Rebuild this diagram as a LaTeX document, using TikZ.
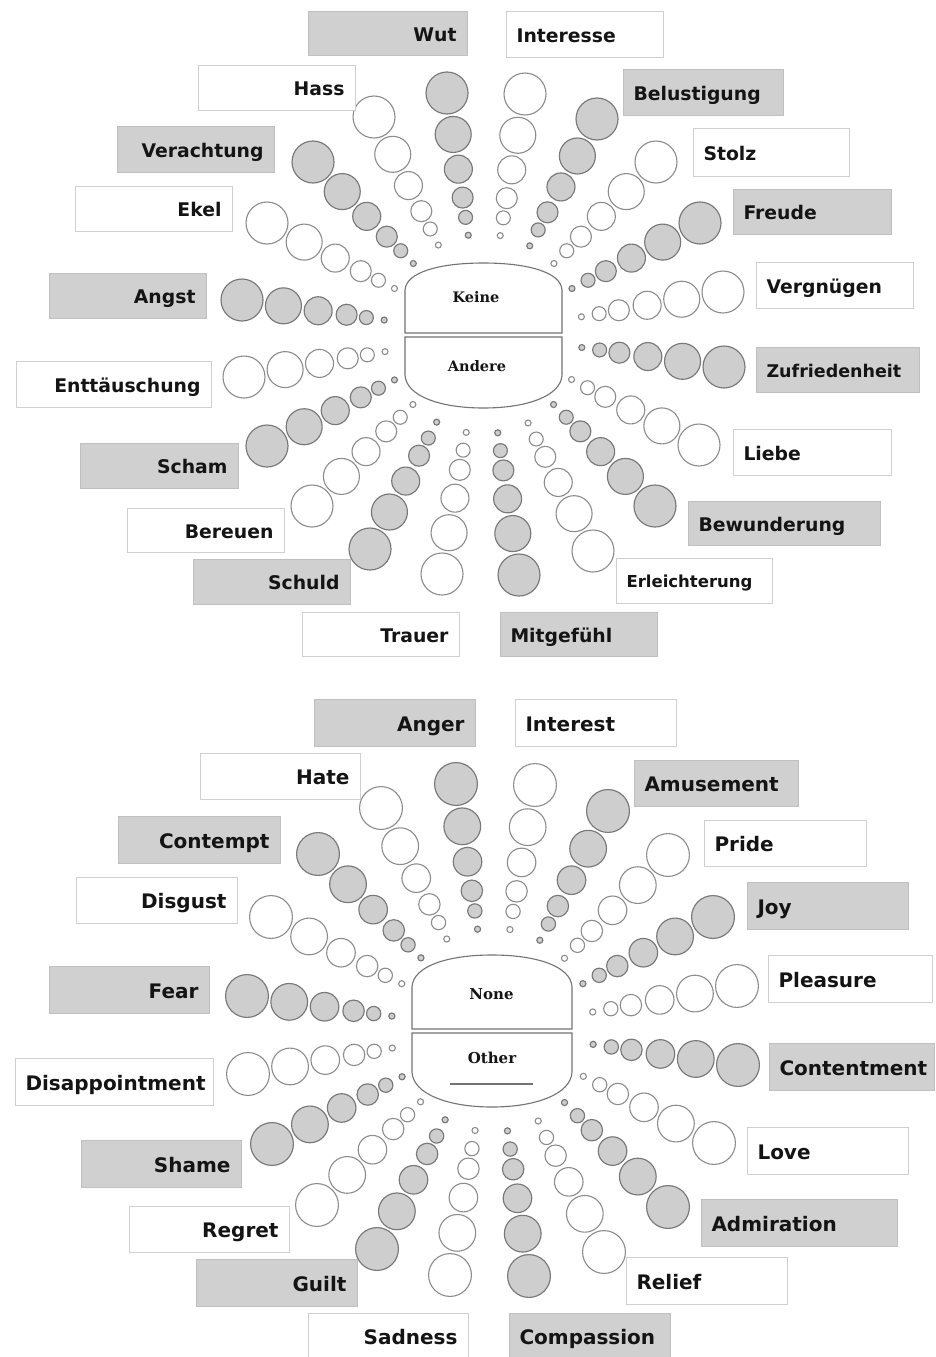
\documentclass[tikz,border=0pt]{standalone}
\usepackage{fontspec}
\usetikzlibrary{calc}
\newfontfamily\labfam{DejaVu Sans}
\newfontfamily\serfam{DejaVu Serif}
\definecolor{cg}{RGB}{206,206,206}
\definecolor{cgl}{RGB}{120,120,120}
\definecolor{cwl}{RGB}{140,140,140}
\definecolor{bg}{RGB}{208,208,208}
\definecolor{bgl}{RGB}{192,192,192}
\definecolor{bwl}{RGB}{208,208,208}
\definecolor{ctrl}{RGB}{115,115,115}
\definecolor{txt}{RGB}{20,20,20}
\tikzset{
  gcirc/.style={fill=cg, draw=cgl, line width=1.15pt},
  wcirc/.style={fill=white, draw=cwl, line width=1.1pt},
  lab/.style={line width=1pt, inner xsep=10.5pt, inner ysep=0pt, text height=16.5pt, text depth=0pt, text=txt},
  glab/.style={lab, fill=bg, draw=bgl},
  wlab/.style={lab, fill=white, draw=bwl},
  topf/.style={font=\labfam\bfseries\fontsize{18.8}{20}\selectfont},
  botf/.style={font=\labfam\bfseries\fontsize{20}{22}\selectfont, text height=17pt},
  ctr/.style={draw=ctrl, line width=1.1pt, fill=white},
  ctrtxt/.style={anchor=base, inner sep=0pt, text=txt}
}
\newcommand\labl[8]{%
  \pgfmathsetmacro\lw{#5-#3-21}%
  \pgfmathsetmacro\lh{#6-#4}%
  \node[#1, text width=\lw pt, minimum height=\lh pt, align=#2] (#7) at ({(#3+#5)/2},{(#4+#6)/2}) {#8};}
\newcommand\drawspokes[3]{%
  \foreach \ox/\oy/\s in {#3} {
    \foreach \f/\r in {0.41/3,0.484/7,0.566/10.5,0.684/14,0.828/18,1/21} {
      \draw[\s] ($(#1)!\f!(\ox,\oy)$) circle[radius={#2*\r*1pt}];
    }
  }}
\begin{document}
\begin{tikzpicture}[x=1pt,y=-1pt]
\useasboundingbox (0,0) rectangle (935,1357);
\fill[white] (0,0) rectangle (935,1357);

% ---------------- top wheel (German) ----------------
\coordinate (C1) at (483,334);
\drawspokes{C1}{1}{447/93/gcirc, 525/94/wcirc, 597/119/gcirc, 656/162/wcirc, 700/223/gcirc,
 723/292/wcirc, 724/367/gcirc, 699/445/wcirc, 655/506/gcirc, 593/551/wcirc,
 519/575/gcirc, 442/574/wcirc, 370/549/gcirc, 312/506/wcirc, 267/446/gcirc,
 244/377/wcirc, 242/300/gcirc, 267/223/wcirc, 313/162/gcirc, 374/117/wcirc}

\draw[ctr] (405,333) -- (405,290) .. controls (406,272) and (440,263) .. (483.5,263)
  .. controls (527,263) and (561,272) .. (562,290) -- (562,333) -- cycle;
\draw[ctr] (405,337) -- (405,375) .. controls (406,396) and (440,408) .. (483.5,408)
  .. controls (527,408) and (561,396) .. (562,375) -- (562,337) -- cycle;
\node[ctrtxt, font=\serfam\bfseries\fontsize{14.5}{16}\selectfont] (keine) at (476,302) {Keine};
\node[ctrtxt, font=\serfam\bfseries\fontsize{14.5}{16}\selectfont] (andere) at (477,371) {Andere};

\labl{glab,topf}{right}{308}{11}{467}{55}{wut}{Wut}
\labl{wlab,topf}{left}{506}{11}{663}{57}{interesse}{Interesse}
\labl{wlab,topf}{right}{198}{65}{355}{110}{hass}{Hass}
\labl{glab,topf}{left}{623}{69}{783}{115}{belustigung}{Belustigung}
\labl{glab,topf}{right}{117}{126}{274}{172}{verachtung}{Verachtung}
\labl{wlab,topf}{left}{693}{128}{849}{176}{stolz}{Stolz}
\labl{wlab,topf}{right}{75}{186}{232}{231}{ekel}{Ekel}
\labl{glab,topf}{left}{733}{189}{891}{234}{freude}{Freude}
\labl{glab,topf}{right}{49}{273}{206}{318}{angst}{Angst}
\labl{wlab,topf}{left}{756}{262}{913}{308}{vergnuegen}{Vergnügen}
\labl{wlab,topf}{right}{16}{361}{211}{407}{enttaeuschung}{Enttäuschung}
\labl{glab,topf,font=\labfam\bfseries\fontsize{17.5}{19}\selectfont}{left}{756}{347}{919}{392}{zufriedenheit}{Zufriedenheit}
\labl{glab,topf}{right}{80}{443}{238}{488}{scham}{Scham}
\labl{wlab,topf}{left}{733}{429}{891}{475}{liebe}{Liebe}
\labl{wlab,topf}{right}{127}{508}{284}{552}{bereuen}{Bereuen}
\labl{glab,topf}{left}{688}{501}{880}{545}{bewunderung}{Bewunderung}
\labl{glab,topf}{right}{193}{559}{350}{604}{schuld}{Schuld}
\labl{wlab,font=\labfam\bfseries\fontsize{16.5}{19}\selectfont, text height=14pt}{left}{616}{558}{772}{603}{erleichterung}{Erleichterung}
\labl{wlab,topf}{right}{302}{612}{459}{656}{trauer}{Trauer}
\labl{glab,topf}{left}{500}{612}{657}{656}{mitgefuehl}{Mitgefühl}

% ---------------- bottom wheel (English) ----------------
\coordinate (C2) at (492.5,1030);
\drawspokes{C2}{1.02}{456/784/gcirc, 535/785/wcirc, 608/811/gcirc, 668/855/wcirc, 713/917/gcirc,
 737/986/wcirc, 738/1065/gcirc, 714/1143/wcirc, 668/1207/gcirc, 604/1252/wcirc,
 529/1276/gcirc, 450/1275/wcirc, 377/1249/gcirc, 317/1205/wcirc, 272/1144/gcirc,
 248/1074/wcirc, 247/996/gcirc, 271/917/wcirc, 318/854/gcirc, 381/808/wcirc}

\draw[ctr] (412,1029) -- (412,987) .. controls (413,966) and (448,955) .. (492,955)
  .. controls (536,955) and (571,966) .. (572,987) -- (572,1029) -- cycle;
\draw[ctr] (412,1033) -- (412,1072) .. controls (413,1094) and (448,1107) .. (492,1107)
  .. controls (536,1107) and (571,1094) .. (572,1072) -- (572,1033) -- cycle;
\node[ctrtxt, font=\serfam\bfseries\fontsize{15}{16}\selectfont] (none) at (491.5,999) {None};
\node[ctrtxt, font=\serfam\bfseries\fontsize{15}{16}\selectfont] (other) at (492,1063) {Other};
\draw[draw=ctrl, line width=1.2pt] (450,1084) -- (533,1084);

\labl{glab,botf}{right}{314}{699}{475}{746}{anger}{Anger}
\labl{wlab,botf}{left}{515}{699}{676}{746}{interest}{Interest}
\labl{wlab,botf}{right}{200}{753}{360}{799}{hate}{Hate}
\labl{glab,botf}{left}{634}{760}{798}{806}{amusement}{Amusement}
\labl{glab,botf}{right}{118}{816}{280}{863}{contempt}{Contempt}
\labl{wlab,botf}{left}{704}{820}{866}{866}{pride}{Pride}
\labl{wlab,botf}{right}{76}{877}{237}{923}{disgust}{Disgust}
\labl{glab,botf}{left}{747}{882}{908}{929}{joy}{Joy}
\labl{glab,botf}{right}{49}{966}{209}{1013}{fear}{Fear}
\labl{wlab,botf}{left}{768}{955}{932}{1002}{pleasure}{Pleasure}
\labl{wlab,botf}{right}{15}{1058}{213}{1105}{disappointment}{Disappointment}
\labl{glab,botf}{left}{769}{1043}{934}{1090}{contentment}{Contentment}
\labl{glab,botf}{right}{81}{1140}{241}{1187}{shame}{Shame}
\labl{wlab,botf}{left}{747}{1127}{908}{1174}{love}{Love}
\labl{wlab,botf}{right}{129}{1206}{289}{1252}{regret}{Regret}
\labl{glab,botf}{left}{701}{1199}{897}{1246}{admiration}{Admiration}
\labl{glab,botf}{right}{196}{1259}{357}{1306}{guilt}{Guilt}
\labl{wlab,botf}{left}{626}{1257}{787}{1304}{relief}{Relief}
\labl{wlab,botf}{right}{308}{1313}{468}{1359}{sadness}{Sadness}
\labl{glab,botf}{left}{509}{1313}{670}{1359}{compassion}{Compassion}
\end{tikzpicture}
\end{document}
